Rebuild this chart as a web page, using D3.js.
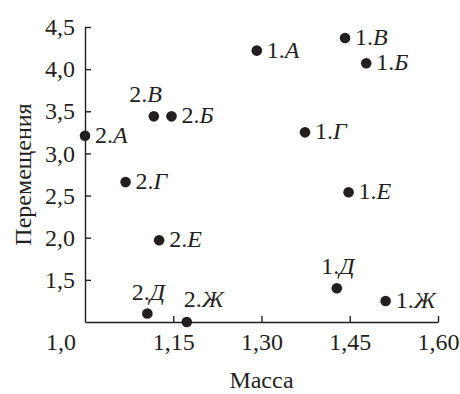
<!DOCTYPE html>
<html>
<head>
<meta charset="utf-8">
<script src="https://cdn.jsdelivr.net/npm/d3@7"></script>
<style>
  body { margin: 0; background: #fff; }
  text { font-family: "Liberation Serif", "DejaVu Serif", serif; fill: #231f20; }
</style>
</head>
<body>
<div id="chart"></div>
<script>
// данные: серия, буква, масса, перемещения
const series = ['2', '2', '2', '2', '1', '1', '1', '1', '1', '2', '2', '2', '1', '1']
const letters = ['А', 'В', 'Б', 'Г', 'А', 'В', 'Б', 'Г', 'Е', 'Е', 'Д', 'Ж', 'Д', 'Ж']
const massValues = [1.0, 1.117, 1.147, 1.069, 1.292, 1.442, 1.478, 1.374, 1.448, 1.126, 1.106, 1.173, 1.428, 1.511]
const moveValues = [3.21, 3.44, 3.44, 2.66, 4.22, 4.37, 4.07, 3.25, 2.54, 1.97, 1.10, 1.00, 1.40, 1.25]

const xTicks = [1.0, 1.15, 1.30, 1.45, 1.60]
const xTickLabels = ['1,0', '1,15', '1,30', '1,45', '1,60']
const yTicks = [1.5, 2.0, 2.5, 3.0, 3.5, 4.0, 4.5]
const yTickLabels = ['1,5', '2,0', '2,5', '3,0', '3,5', '4,0', '4,5']

// где стоит подпись относительно точки
const labelPlace = {
    '2.В': 'upleft',
    '2.Д': 'up',
    '2.Ж': 'upright',
    '1.Д': 'up'
}

const width = 460
const height = 394
const margin = { left: 85, right: 22, top: 27, bottom: 72 }
const ink = '#231f20'
const fontSize = 24

const svg = d3.select('#chart').append('svg')
    .attr('width', width)
    .attr('height', height)

const x = d3.scaleLinear()
    .domain([1.0, 1.6])
    .range([margin.left, width - margin.right])

const y = d3.scaleLinear()
    .domain([1.0, 4.5])
    .range([height - margin.bottom, margin.top])

// оси
const xAxis = svg.append('g')
    .attr('transform', `translate(0, ${y(1.0)})`)
    .call(d3.axisBottom(x)
        .tickValues(xTicks.slice(1))
        .tickFormat((d, i) => xTickLabels[i + 1])
        .tickSizeInner(-6)
        .tickSizeOuter(0)
        .tickPadding(11))

const yAxis = svg.append('g')
    .attr('transform', `translate(${x(1.0)}, 0)`)
    .call(d3.axisLeft(y)
        .tickValues(yTicks)
        .tickFormat((d, i) => yTickLabels[i])
        .tickSizeInner(-6)
        .tickSizeOuter(0)
        .tickPadding(10))

// подпись 1,0 под углом осей, сдвинута влево
xAxis.append('text')
    .attr('x', x(xTicks[0]) - 24)
    .attr('y', 11)
    .attr('dy', '0.71em')
    .attr('text-anchor', 'middle')
    .text(xTickLabels[0])

svg.selectAll('.domain, .tick line')
    .attr('stroke', ink)
    .attr('stroke-width', 1.4)

svg.selectAll('text')
    .attr('font-size', fontSize)
    .attr('fill', ink)
    .attr('font-family', '"Liberation Serif", serif')

// точки
svg.append('g')
    .selectAll('circle')
    .data(massValues)
    .enter()
    .append('circle')
    .attr('cx', d => x(d))
    .attr('cy', (d, i) => y(moveValues[i]))
    .attr('r', 5.3)
    .attr('fill', ink)

// подписи точек
svg.append('g')
    .selectAll('text')
    .data(massValues)
    .enter()
    .append('text')
    .attr('font-size', fontSize)
    .attr('fill', ink)
    .each(function (d, i) {
        const name = series[i] + '.' + letters[i]
        const place = labelPlace[name] || 'right'
        const px = x(d)
        const py = y(moveValues[i])
        const t = d3.select(this)
        if (place === 'right') {
            t.attr('x', px + 10).attr('y', py + 7).attr('text-anchor', 'start')
        } else if (place === 'up') {
            t.attr('x', px + 1).attr('y', py - 14).attr('text-anchor', 'middle')
        } else if (place === 'upleft') {
            t.attr('x', px + 8).attr('y', py - 14).attr('text-anchor', 'end')
        } else {
            t.attr('x', px - 3).attr('y', py - 15).attr('text-anchor', 'start')
        }
        t.append('tspan').text(series[i] + '.')
        t.append('tspan').attr('font-style', 'italic').text(letters[i])
    })

// названия осей
svg.append('text')
    .attr('x', (x(1.0) + x(1.6)) / 2)
    .attr('y', height - 6)
    .attr('text-anchor', 'middle')
    .attr('font-size', fontSize)
    .attr('fill', ink)
    .text('Масса')

svg.append('text')
    .attr('transform', `translate(31, ${(y(1.0) + y(4.5)) / 2}) rotate(-90)`)
    .attr('text-anchor', 'middle')
    .attr('font-size', fontSize)
    .attr('fill', ink)
    .text('Перемещения')
</script>
</body>
</html>
